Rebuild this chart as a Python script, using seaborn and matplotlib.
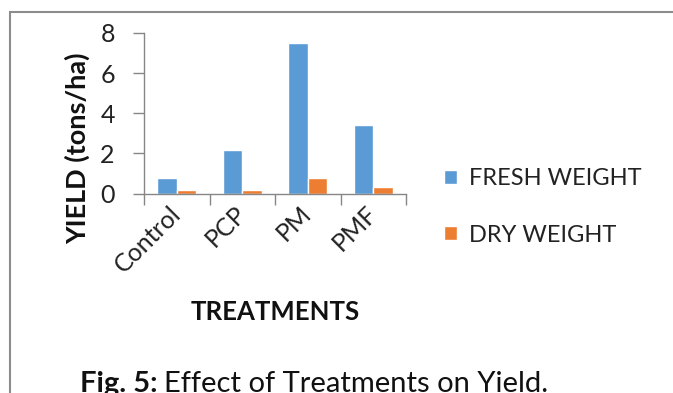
import matplotlib
matplotlib.use("Agg")
import matplotlib.pyplot as plt
import matplotlib.patches as mpatches
import seaborn as sns
import pandas as pd

# Yield per treatment (tons/ha)
treatments = ["Control", "PCP", "PM", "PMF"]
fresh_weight = [0.78, 2.15, 7.5, 3.42]
dry_weight = [0.17, 0.17, 0.78, 0.32]
series_names = ["FRESH WEIGHT", "DRY WEIGHT"]
y_ticks = [0, 2, 4, 6, 8]

df = pd.DataFrame({
    "treatment": treatments * 2,
    "yield": fresh_weight + dry_weight,
    "series": [series_names[0]] * len(treatments) + [series_names[1]] * len(treatments),
})

sns.set_style("white")
plt.rcParams["font.family"] = ["Lato", "DejaVu Sans"]

W, H = 673, 393
fig = plt.figure(figsize=(W / 100, H / 100), dpi=100)
ax = fig.add_axes([144 / W, 1 - 193.5 / H, (406 - 144) / W, (193.5 - 33) / H])

sns.barplot(data=df, x="treatment", y="yield", hue="series",
            palette=["#5B9BD5", "#ED7D31"], saturation=1, width=0.6,
            ax=ax, legend=True)

ax.set_xlim(-0.5, len(treatments) - 0.5)
ax.set_ylim(0, 8)
ax.set_yticks(y_ticks)
ax.set_yticklabels([str(t) for t in y_ticks])

axis_color = "#868686"
for side in ["top", "right"]:
    ax.spines[side].set_visible(False)
for side in ["left", "bottom"]:
    ax.spines[side].set_color(axis_color)
    ax.spines[side].set_linewidth(1.0)

# category ticks sit between the groups
ax.set_xticks([i - 0.5 for i in range(len(treatments) + 1)], minor=True)
ax.tick_params(axis="x", which="minor", length=8, width=1, color=axis_color, direction="out", bottom=True)
ax.tick_params(axis="x", which="major", length=0, pad=12)
ax.tick_params(axis="y", length=8, width=1, color=axis_color, direction="out", left=True, pad=13)
ax.tick_params(axis="y", labelsize=18, labelcolor="#222222")
ax.tick_params(axis="x", labelsize=18, labelcolor="#222222")

for lbl in ax.get_xticklabels():
    lbl.set_rotation(45)
    lbl.set_ha("right")
    lbl.set_va("center")
    lbl.set_rotation_mode("anchor")

ax.set_xlabel("TREATMENTS", fontsize=18.5, fontweight="bold", labelpad=17, color="#111111")
ax.set_ylabel("YIELD (tons/ha)", fontsize=19.5, fontweight="bold", color="#111111")
ax.yaxis.set_label_coords(-0.205, 0.28)

handles, labels = ax.get_legend_handles_labels()
ax.get_legend().remove()
fig.legend(handles, labels, loc="center left", bbox_to_anchor=(423 / W, 1 - 207 / H),
           frameon=False, fontsize=17, handlelength=0.55, handleheight=0.55,
           handletextpad=0.5, labelspacing=1.5, labelcolor="#222222")

# outer frame of the figure panel
fig.patches.append(mpatches.Rectangle((10 / W, -0.2), 1.2, 1.2 - 12 / H,
                                      transform=fig.transFigure, fill=False,
                                      edgecolor="#8c8c8c", linewidth=1.5))

# caption: bold figure number followed by plain description
cap_y = 1 - 392 / H
t1 = fig.text(80 / W, cap_y, "Fig. 5:", fontsize=21, fontweight="bold",
              color="#111111", va="baseline", ha="left")
renderer = fig.canvas.get_renderer()
x_end = t1.get_window_extent(renderer=renderer).x1
fig.text((x_end + 6) / W, cap_y, "Effect of Treatments on Yield.", fontsize=21,
         color="#111111", va="baseline", ha="left")

fig.savefig("out.png", dpi=100)
